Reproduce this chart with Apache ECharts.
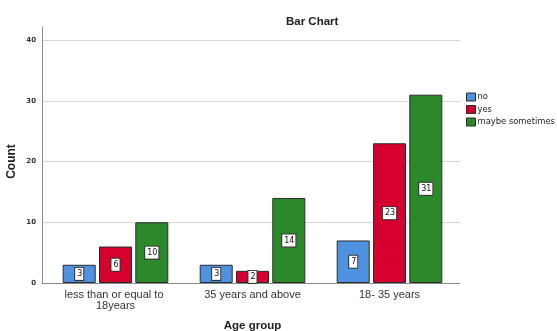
<!DOCTYPE html>
<html>
<head>
<meta charset="utf-8">
<script src="https://cdn.jsdelivr.net/npm/echarts@6/dist/echarts.min.js"></script>
<style>
  html, body { margin: 0; padding: 0; background: #fff; }
  #chart { width: 557px; height: 331px; }
</style>
</head>
<body>
<div id="chart"></div>
<script>
// Counts by age group and answer
const categories = ['less than or equal to 18years', '35 years and above', '18- 35 years'];
const seriesNames = ['no', 'yes', 'maybe sometimes'];
const noValues = [3, 3, 7];
const yesValues = [6, 2, 23];
const maybeValues = [10, 14, 31];
const colors = ['#4f92e2', '#d6002f', '#2b892b'];

const FONT = '"Liberation Sans", Arial, sans-serif';
const SMALL = '"DejaVu Sans", Verdana, sans-serif';

const chart = echarts.init(document.getElementById('chart'), null, { renderer: 'canvas' });

function barSeries(name, values, color) {
  return {
    name: name,
    type: 'bar',
    xAxisIndex: 0,
    yAxisIndex: 0,
    data: values,
    barWidth: 33,
    barGap: '10%',
    barCategoryGap: '24%',
    z: 3,
    itemStyle: { color: color, borderColor: '#2a2a2a', borderWidth: 1 },
    label: {
      show: true,
      position: 'inside',
      fontFamily: SMALL,
      fontSize: 8,
      color: '#111',
      backgroundColor: '#fff',
      borderColor: '#333',
      borderWidth: 1,
      padding: [2, 1, 2, 2]
    }
  };
}

chart.setOption({
  animation: false,
  backgroundColor: '#fff',
  title: {
    text: 'Bar Chart',
    left: 281,
    top: 11,
    textStyle: { fontFamily: FONT, fontSize: 11.5, fontWeight: 'bold', color: '#222' }
  },
  legend: {
    orient: 'vertical',
    left: 466,
    top: 92.5,
    padding: 0,
    itemWidth: 9,
    itemHeight: 8,
    itemGap: 3.5,
    icon: 'rect',
    data: seriesNames,
    itemStyle: { borderColor: '#2a2a2a', borderWidth: 1 },
    textStyle: { fontFamily: SMALL, fontSize: 8.4, color: '#222', padding: [0, 0, 0, -3] }
  },
  grid: [
    // bars
    { left: 47, width: 411, top: 40, bottom: 48, outerBoundsMode: 'none', containLabel: false },
    // frame: gridlines, tick labels, baseline
    { left: 42, width: 418, top: 40, bottom: 48, outerBoundsMode: 'none', containLabel: false },
    // vertical axis line reaching above the top gridline
    { left: 42, width: 1, top: 27, bottom: 48, outerBoundsMode: 'none', containLabel: false }
  ],
  xAxis: [
    {
      gridIndex: 0,
      type: 'category',
      data: categories,
      axisLine: { show: false },
      axisTick: { show: false },
      axisLabel: {
        margin: 6,
        fontFamily: FONT,
        fontSize: 11,
        lineHeight: 11,
        color: '#333',
        width: 112,
        overflow: 'break',
        interval: 0
      },
      name: 'Age group',
      nameLocation: 'middle',
      nameGap: 37,
      nameTextStyle: { fontFamily: FONT, fontSize: 11.5, fontWeight: 'bold', color: '#222' }
    },
    {
      gridIndex: 1,
      type: 'category',
      data: categories,
      axisLine: { show: true, lineStyle: { color: '#8a8a8a', width: 1 } },
      axisTick: { show: false },
      axisLabel: { show: false }
    },
    {
      gridIndex: 2,
      type: 'value',
      show: false
    }
  ],
  yAxis: [
    {
      gridIndex: 0,
      type: 'value',
      min: 0,
      max: 40,
      interval: 10,
      show: false
    },
    {
      gridIndex: 1,
      type: 'value',
      min: 0,
      max: 40,
      interval: 10,
      axisLine: { show: false },
      axisTick: { show: false },
      splitLine: { show: true, lineStyle: { color: '#d6d6d6', width: 1 } },
      axisLabel: { margin: 6, fontFamily: SMALL, fontSize: 7, fontWeight: 'bold', color: '#333' },
      name: 'Count',
      nameLocation: 'middle',
      nameGap: 24,
      nameMoveOverlap: false,
      nameRotate: 90,
      nameTextStyle: { fontFamily: FONT, fontSize: 12, fontWeight: 'bold', color: '#222' }
    },
    {
      gridIndex: 2,
      type: 'value',
      min: 0,
      max: 1,
      axisLine: { show: true, lineStyle: { color: '#8a8a8a', width: 1 } },
      axisTick: { show: false },
      axisLabel: { show: false },
      splitLine: { show: false }
    }
  ],
  series: [
    barSeries(seriesNames[0], noValues, colors[0]),
    barSeries(seriesNames[1], yesValues, colors[1]),
    barSeries(seriesNames[2], maybeValues, colors[2])
  ]
});
</script>
</body>
</html>
